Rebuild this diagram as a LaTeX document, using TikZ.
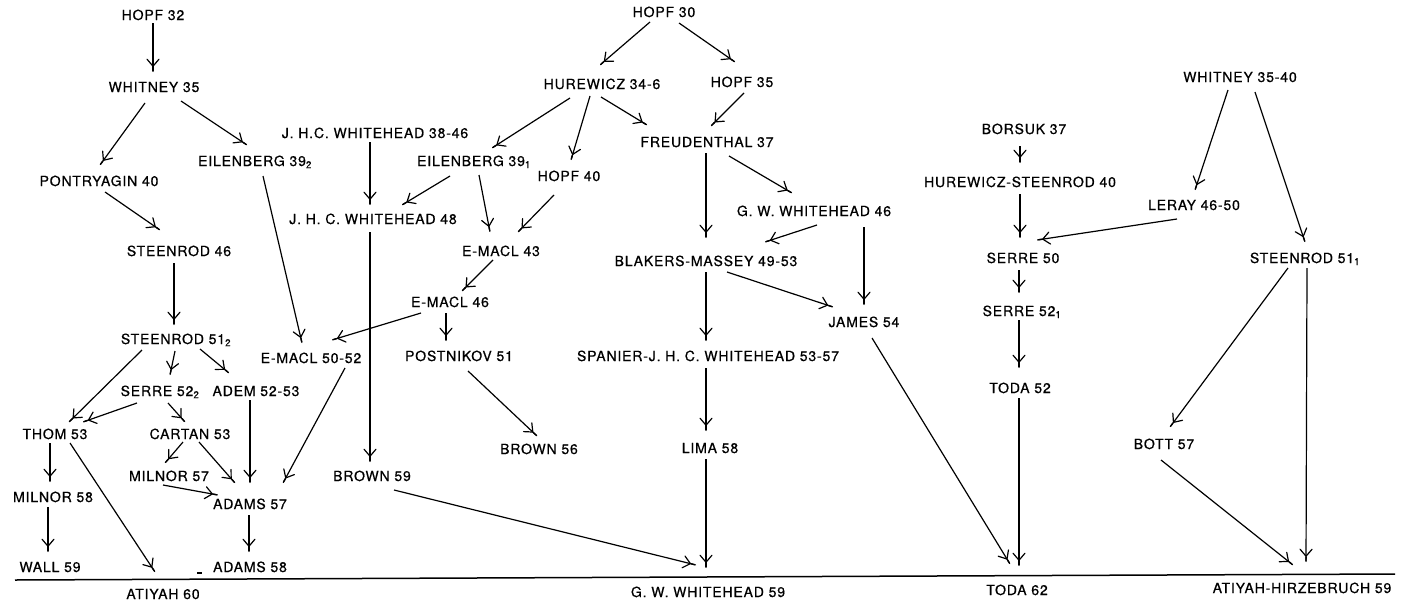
\documentclass[tikz,border=0pt]{standalone}
\usepackage{fontspec}
\setmainfont{TeX Gyre Heros}[LetterSpace=6,FakeBold=0.6]
\usetikzlibrary{arrows.meta}
\newcommand\myedge[4]{\draw[arr] ([shift={(#2)}]#1.center) -- ([shift={(#4)}]#3.center);}
\begin{document}
\begin{tikzpicture}[x=1pt,y=-1pt,
  lbl/.style={font=\fontsize{14}{16}\selectfont, inner sep=0pt, text height=10pt, text depth=0pt},
  arr/.style={line width=1.2pt, -{Straight Barb[length=7pt,width=12pt,sep=0pt,round] Straight Barb[length=4pt,width=0.3pt,sep=0pt,round]}}]
\useasboundingbox (0,0) rectangle (1404,605);
% nodes
\node[lbl] (h32) at (153,15) {HOPF 32};
\node[lbl] (w35) at (154,87) {WHITNEY 35};
\node[lbl] (pon) at (99,181) {PONTRYAGIN 40};
\node[lbl] (eil2) at (255,161) {EILENBERG 39\textsubscript{2}};
\node[lbl] (st46) at (179,251) {STEENROD 46};
\node[lbl] (jw3846) at (375,133) {J. H.C. WHITEHEAD 38-46};
\node[lbl] (jw48) at (373,219) {J. H. C. WHITEHEAD 48};
\node[lbl] (eil1) at (474,161) {EILENBERG 39\textsubscript{1}};
\node[lbl] (h40) at (569,176) {HOPF 40};
\node[lbl] (hur) at (602,84) {HUREWICZ 34-6};
\node[lbl] (h30) at (664,12) {HOPF 30};
\node[lbl] (h35) at (742,82) {HOPF 35};
\node[lbl] (fr37) at (707,142) {FREUDENTHAL 37};
\node[lbl] (em43) at (501,251) {E-MACL 43};
\node[lbl] (em46) at (450,302) {E-MACL 46};
\node[lbl] (gw46) at (814,211) {G. W. WHITEHEAD 46};
\node[lbl] (bm) at (706,261) {BLAKERS-MASSEY 49-53};
\node[lbl] (james) at (864,322) {JAMES 54};
\node[lbl] (span) at (708,356) {SPANIER-J. H. C. WHITEHEAD 53-57};
\node[lbl] (lima) at (710,448) {LIMA 58};
\node[lbl] (gw59) at (708,592) {G. W. WHITEHEAD 59};
\node[lbl] (br59) at (372,476) {BROWN 59};
\node[lbl] (br56) at (539,449) {BROWN 56};
\node[lbl] (post) at (459,356) {POSTNIKOV 51};
\node[lbl] (em5052) at (311,358) {E-MACL 50-52};
\node[lbl] (st512) at (176,339) {STEENROD 51\textsubscript{2}};
\node[lbl] (se522) at (160,391) {SERRE 52\textsubscript{2}};
\node[lbl] (adem) at (256,391) {ADEM 52-53};
\node[lbl] (thom) at (55,434) {THOM 53};
\node[lbl] (cartan) at (190,434) {CARTAN 53};
\node[lbl] (mil57) at (169,476) {MILNOR 57};
\node[lbl] (mil58) at (53,497) {MILNOR 58};
\node[lbl] (ad57) at (250,504) {ADAMS 57};
\node[lbl] (wall) at (50,567) {WALL 59};
\node[lbl] (ad58) at (250,567) {ADAMS 58};
\node[lbl] (at60) at (163,594) {ATIYAH 60};
\node[lbl] (bor) at (1024,129) {BORSUK 37};
\node[lbl] (hs40) at (1020,182) {HUREWICZ-STEENROD 40};
\node[lbl] (w3540) at (1240,77) {WHITNEY 35-40};
\node[lbl] (leray) at (1194,205) {LERAY 46-50};
\node[lbl] (se50) at (1023,258) {SERRE 50};
\node[lbl] (st511) at (1305,258) {STEENROD 51\textsubscript{1}};
\node[lbl] (se521) at (1022,311) {SERRE 52\textsubscript{1}};
\node[lbl] (toda52) at (1020,388) {TODA 52};
\node[lbl] (bott) at (1164,444) {BOTT 57};
\node[lbl] (toda62) at (1017,590) {TODA 62};
\node[lbl] (ah) at (1302,588) {ATIYAH-HIRZEBRUCH 59};
% free arrow ends above the base line
\coordinate (atA) at (155,572);
\coordinate (gwA) at (706,568);
\coordinate (gwB) at (696,565);
\coordinate (tdA) at (1010,564);
\coordinate (tdB) at (1019,566);
\coordinate (ahA) at (1306,562);
\coordinate (ahB) at (1293,565);
% base line
\coordinate (baseL) at (15,580);
\coordinate (baseR) at (1395,574);
\draw[line width=1.5pt] (baseL) -- (baseR);
\draw[line width=1.2pt] (197,573) -- (202,573);
% edges
\myedge{h32}{0,8}{w35}{-1,-15}
\myedge{w35}{-9,16}{pon}{1,-16}
\myedge{w35}{27,14}{eil2}{-8,-16}
\myedge{pon}{6,11}{st46}{-19,-21}
\myedge{st46}{-5,12}{st512}{-2,-14}
\myedge{eil2}{8,15}{em5052}{-9,-15}
\myedge{jw3846}{-5,9}{jw48}{-3,-14}
\myedge{eil1}{-24,15}{jw48}{29,-14}
\myedge{eil1}{5,14}{em43}{-11,-19}
\myedge{h40}{-15,19}{em43}{17,-19}
\myedge{hur}{-32,14}{eil1}{18,-13}
\myedge{hur}{-12,12}{h40}{2,-16}
\myedge{hur}{-1,13}{fr37}{-60,-17}
\myedge{h30}{-14,10}{hur}{-2,-19}
\myedge{h30}{15,11}{h35}{-7,-20}
\myedge{h35}{2,11}{fr37}{4,-16}
\myedge{fr37}{-1,11}{bm}{0,-23}
\myedge{fr37}{22,14}{gw46}{-22,-18}
\myedge{gw46}{3,14}{bm}{59,-19}
\myedge{gw46}{50,16}{james}{0,-17}
\myedge{bm}{21,11}{james}{-31,-15}
\myedge{bm}{0,11}{span}{-2,-15}
\myedge{span}{-2,12}{lima}{-4,-17}
\draw[arr] ([shift={(-4,11)}]lima.center) -- (gwA);
\draw[arr] ([shift={(22,14)}]br59.center) -- (gwB);
\draw[arr] ([shift={(8,16)}]james.center) -- (tdA);
\draw[arr] ([shift={(-1,10)}]toda52.center) -- (tdB);
\myedge{se521}{-3,9}{toda52}{-1,-20}
\myedge{se50}{-4,12}{se521}{-3,-18}
\myedge{hs40}{0,12}{se50}{-3,-20}
\myedge{bor}{-4,17}{hs40}{0,-19}
\myedge{leray}{-17,14}{se50}{14,-18}
\myedge{w3540}{-12,13}{leray}{1,-15}
\myedge{w3540}{15,15}{st511}{0,-16}
\myedge{st511}{-17,10}{bott}{6,-17}
\draw[arr] ([shift={(2,10)}]st511.center) -- (ahA);
\draw[arr] ([shift={(-3,16)}]bott.center) -- (ahB);
\myedge{em43}{-8,9}{em46}{12,-11}
\myedge{em46}{-29,11}{em5052}{21,-18}
\myedge{em46}{-4,11}{post}{-13,-15}
\myedge{post}{9,15}{br56}{-2,-13}
\myedge{jw48}{-3,13}{br59}{-2,-14}
\myedge{em5052}{34,10}{ad57}{33,-21}
\myedge{st512}{-34,11}{thom}{14,-12}
\myedge{st512}{-1,12}{se522}{10,-16}
\myedge{st512}{24,10}{adem}{-27,-18}
\myedge{se522}{-23,12}{thom}{28,-12}
\myedge{se522}{8,12}{cartan}{-5,-12}
\myedge{adem}{-6,9}{ad57}{0,-21}
\myedge{cartan}{-7,8}{mil57}{-4,-13}
\myedge{cartan}{9,8}{ad57}{-15,-21}
\myedge{mil57}{-6,9}{ad57}{-32,-9}
\myedge{thom}{-5,9}{mil58}{-3,-15}
\myedge{mil58}{-5,10}{wall}{-2,-15}
\draw[arr] ([shift={(15,9)}]thom.center) -- (atA);
\myedge{ad57}{-1,11}{ad58}{-1,-15}
\end{tikzpicture}
\end{document}
